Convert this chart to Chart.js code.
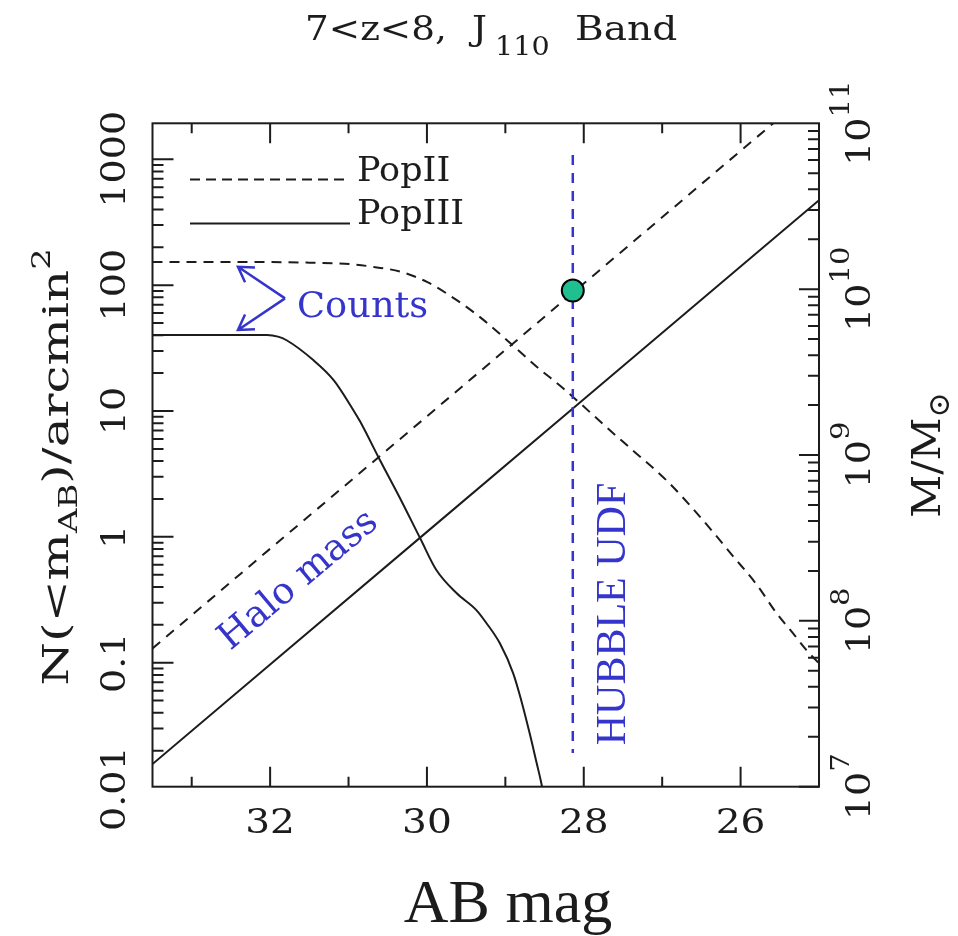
<!DOCTYPE html>
<html>
<head>
<meta charset="utf-8">
<script src="https://cdn.jsdelivr.net/npm/chart.js@4.4.1/dist/chart.umd.min.js"></script>
<style>
  html, body { margin: 0; padding: 0; background: #fff; }
  #wrap { width: 958px; height: 936px; position: relative; }
</style>
</head>
<body>
<div id="wrap"><canvas id="chart"></canvas></div>
<script>
// cumulative counts N(<m_AB) per arcmin^2, PopII and PopIII
const popIIMag = [33.5, 32.5, 31.5, 30.98, 30.66, 30.34, 30.0, 29.62, 29.28, 28.91, 28.6, 28.26, 27.67, 27.37, 26.94, 26.52, 26.09, 25.79, 25.54, 25.33, 25.16, 25.0];
const popIICounts = [153, 153, 151, 147, 139, 128, 106, 76, 53, 33.4, 22.5, 15.1, 7.06, 4.84, 2.79, 1.45, 0.695, 0.414, 0.247, 0.171, 0.126, 0.099];

const popIIIMag = [33.5, 32.04, 31.9, 31.79, 31.45, 31.19, 30.94, 30.85, 30.6, 30.34, 30.08, 29.88, 29.62, 29.37, 29.24, 29.07, 28.9, 28.81, 28.69, 28.6, 28.55, 28.52];
const popIIICounts = [40.2, 40.2, 39, 36.5, 25.4, 17.6, 10.2, 8.2, 4.08, 2.01, 0.956, 0.545, 0.356, 0.262, 0.206, 0.1426, 0.0824, 0.0537, 0.0275, 0.0159, 0.0117, 0.0095];

// halo mass (M/Msun) against magnitude
const haloMag = [33.5, 32, 30, 28, 26, 25];
const haloPopII = [6.82e7, 2.72e8, 1.71e9, 1.08e10, 6.82e10, 1.71e11];
const haloPopIII = [1.37e7, 5.46e7, 3.44e8, 2.17e9, 1.37e10, 3.44e10];

// Hubble UDF depth
const udfMag = 28.14;
const udfCountsRange = [1080, 0.0192];
const udfHaloMass = 9.8e9;

// axes
const magMajorTicks = [32, 30, 28, 26];
const magMinorTicks = [33, 31, 29, 27];
const countTicks = [0.01, 0.1, 1, 10, 100, 1000];
const countTickLabels = ['0.01', '0.1', '1', '10', '100', '1000'];
const massTickExps = [7, 8, 9, 10, 11];

const ink = '#1c1c1c';
const blue = '#3535cc';
const serif = '"DejaVu Serif", serif';
const times = '"Liberation Serif", "Times New Roman", serif';

const pts = (xs, ys) => xs.map((x, i) => ({ x, y: ys[i] }));

function txt(ctx, s, x, y, o) {
  ctx.save();
  ctx.translate(x, y);
  if (o.rot) ctx.rotate(o.rot);
  ctx.scale(o.sx || 1, o.sy || 1);
  ctx.font = o.font;
  ctx.fillStyle = o.color || ink;
  ctx.textAlign = o.align || 'left';
  ctx.textBaseline = 'alphabetic';
  ctx.fillText(s, 0, 0);
  ctx.restore();
}

function textWidth(ctx, s, font, sx) {
  ctx.save();
  ctx.font = font;
  const w = ctx.measureText(s).width * (sx || 1);
  ctx.restore();
  return w;
}

// draws a run of pieces rotated -90deg, reading bottom to top, centred on cy
function vertRun(ctx, bx, cy, pieces) {
  const total = pieces.reduce((a, p) => a + textWidth(ctx, p.s, p.font, p.sx), 0);
  ctx.save();
  ctx.translate(bx, cy);
  ctx.rotate(-Math.PI / 2);
  let cx = -total / 2;
  pieces.forEach(p => {
    txt(ctx, p.s, cx, p.dy || 0, { font: p.font, sx: p.sx, color: p.color });
    cx += textWidth(ctx, p.s, p.font, p.sx);
  });
  ctx.restore();
}

function arrow(ctx, x0, y0, x1, y1) {
  ctx.beginPath();
  ctx.moveTo(x0, y0);
  ctx.lineTo(x1, y1);
  const a = Math.atan2(y1 - y0, x1 - x0);
  const len = 17, spread = 0.55;
  ctx.moveTo(x1 - len * Math.cos(a - spread), y1 - len * Math.sin(a - spread));
  ctx.lineTo(x1, y1);
  ctx.lineTo(x1 - len * Math.cos(a + spread), y1 - len * Math.sin(a + spread));
  ctx.stroke();
}

const framePlugin = {
  id: 'frame',
  afterDraw(chart) {
    const { ctx, chartArea: a, scales } = chart;
    const sx = scales.x, sy = scales.y, sm = scales.yMass;
    ctx.save();
    ctx.strokeStyle = ink;
    ctx.lineWidth = 2;
    ctx.setLineDash([]);
    ctx.strokeRect(a.left, a.top, a.right - a.left, a.bottom - a.top);

    // magnitude ticks, bottom and top
    ctx.beginPath();
    magMajorTicks.concat(magMinorTicks).forEach(v => {
      const len = magMajorTicks.includes(v) ? 20 : 10;
      const x = sx.getPixelForValue(v);
      ctx.moveTo(x, a.bottom); ctx.lineTo(x, a.bottom - len);
      ctx.moveTo(x, a.top); ctx.lineTo(x, a.top + len);
    });
    // count ticks on the left
    for (let e = -2; e <= 3; e++) {
      for (let m = 1; m <= 9; m++) {
        const v = m * Math.pow(10, e);
        if (v < sy.min || v > sy.max) continue;
        const y = sy.getPixelForValue(v);
        ctx.moveTo(a.left, y); ctx.lineTo(a.left + (m === 1 ? 21 : 11), y);
      }
    }
    // mass ticks on the right
    for (let e = 7; e <= 10; e++) {
      for (let m = 1; m <= 9; m++) {
        const v = m * Math.pow(10, e);
        const y = sm.getPixelForValue(v);
        ctx.moveTo(a.right, y); ctx.lineTo(a.right - (m === 1 ? 20 : 11), y);
      }
    }
    ctx.stroke();

    const tickFont = '34px ' + serif;
    const supFont = '26px ' + serif;
    magMajorTicks.forEach(v => {
      txt(ctx, String(v), sx.getPixelForValue(v), a.bottom + 46, { font: tickFont, sx: 1.15, align: 'center' });
    });
    countTicks.forEach((v, i) => {
      vertRun(ctx, a.left - 28, sy.getPixelForValue(v), [{ s: countTickLabels[i], font: tickFont, sx: 1.12 }]);
    });
    massTickExps.forEach(e => {
      vertRun(ctx, a.right + 51, sm.getPixelForValue(Math.pow(10, e)), [
        { s: '10', font: tickFont, sx: 1.12 },
        { s: String(e), font: supFont, sx: 1.12, dy: -21 }
      ]);
    });

    // axis titles
    vertRun(ctx, 68, 467, [
      { s: 'N(<m', font: '35px ' + serif, sx: 1.43 },
      { s: 'AB', font: '26px ' + serif, sx: 1.3, dy: 9 },
      { s: ')/arcmin', font: '35px ' + serif, sx: 1.43 },
      { s: '2', font: '26px ' + serif, sx: 1.3, dy: -18 }
    ]);
    vertRun(ctx, 940, 455, [
      { s: 'M/M', font: '40px ' + serif, sx: 1.05 },
      { s: '\u2299', font: '30px ' + serif, dy: 9 }
    ]);
    txt(ctx, 'AB mag', 508, 922, { font: '62px ' + times, align: 'center' });

    // title
    txt(ctx, '7<z<8,', 305, 40, { font: tickFont, sx: 1.1 });
    txt(ctx, 'J', 472, 40, { font: tickFont, sx: 1.1 });
    txt(ctx, '110', 495, 55, { font: supFont, sx: 1.1 });
    txt(ctx, 'Band', 575, 40, { font: tickFont, sx: 1.15 });

    // key
    ctx.lineWidth = 2;
    ctx.setLineDash([10, 6]);
    ctx.beginPath(); ctx.moveTo(190, 179.5); ctx.lineTo(350, 179.5); ctx.stroke();
    ctx.setLineDash([]);
    ctx.beginPath(); ctx.moveTo(190, 223.5); ctx.lineTo(350, 223.5); ctx.stroke();
    txt(ctx, 'PopII', 357, 181, { font: '33px ' + serif, sx: 1.06 });
    txt(ctx, 'PopIII', 357, 224, { font: '33px ' + serif, sx: 1.06 });

    // annotations
    ctx.strokeStyle = blue;
    ctx.lineWidth = 2.5;
    const vx = sx.getPixelForValue(31.81), vy = sy.getPixelForValue(78.5);
    arrow(ctx, vx, vy, sx.getPixelForValue(32.41), sy.getPixelForValue(140));
    arrow(ctx, vx, vy, sx.getPixelForValue(32.41), sy.getPixelForValue(44));
    txt(ctx, 'Counts', 297, 317, { font: '35px ' + serif, sx: 1.05, color: blue });
    txt(ctx, 'Halo mass', 305, 588, { font: '37px ' + serif, color: blue, align: 'center', rot: -0.70 });
    vertRun(ctx, 625, 614, [{ s: 'HUBBLE UDF', font: '42px ' + times, color: blue }]);
    ctx.restore();
  }
};

new Chart(document.getElementById('chart'), {
  type: 'line',
  data: {
    datasets: [
      {
        label: 'UDF halo', data: [{ x: udfMag, y: udfHaloMass }], yAxisID: 'yMass',
        showLine: false, pointRadius: 11, pointBackgroundColor: '#1fbf8f',
        pointBorderColor: '#000', pointBorderWidth: 2
      },
      {
        label: 'HUBBLE UDF', data: pts([udfMag, udfMag], udfCountsRange), yAxisID: 'y',
        borderColor: blue, borderWidth: 2.5, borderDash: [10, 8]
      },
      {
        label: 'PopII counts', data: pts(popIIMag, popIICounts), yAxisID: 'y',
        borderColor: ink, borderWidth: 2, borderDash: [10, 7], cubicInterpolationMode: 'monotone'
      },
      {
        label: 'PopIII counts', data: pts(popIIIMag, popIIICounts), yAxisID: 'y',
        borderColor: ink, borderWidth: 2, cubicInterpolationMode: 'monotone'
      },
      {
        label: 'PopII halo mass', data: pts(haloMag, haloPopII), yAxisID: 'yMass',
        borderColor: ink, borderWidth: 2, borderDash: [10, 8]
      },
      {
        label: 'PopIII halo mass', data: pts(haloMag, haloPopIII), yAxisID: 'yMass',
        borderColor: ink, borderWidth: 2
      }
    ]
  },
  options: {
    responsive: true,
    maintainAspectRatio: false,
    animation: false,
    clip: 0,
    layout: { padding: { left: 152.5, right: 139, top: 123.3, bottom: 149.3 } },
    elements: { point: { radius: 0 } },
    plugins: { legend: { display: false }, tooltip: { enabled: false } },
    scales: {
      x: { type: 'linear', min: 25, max: 33.5, reverse: true, display: false },
      y: { type: 'logarithmic', min: 0.01035, max: 1932, display: false },
      yMass: { type: 'logarithmic', position: 'right', min: 1e7, max: 1e11, display: false }
    }
  },
  plugins: [framePlugin]
});
</script>
</body>
</html>
